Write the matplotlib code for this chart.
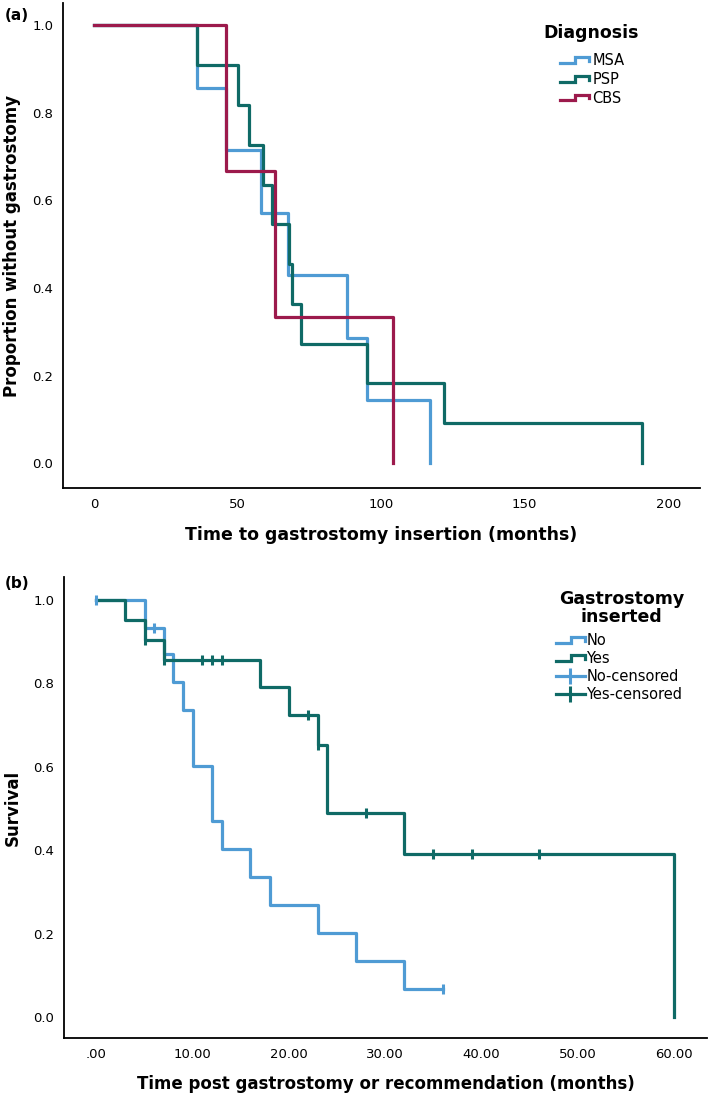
import matplotlib
matplotlib.use("Agg")
import matplotlib.pyplot as plt
from matplotlib.lines import Line2D
from matplotlib.legend_handler import HandlerBase

# panel (a): time to gastrostomy insertion, by diagnosis
msa_time = [0, 36, 46, 58, 67.4, 88, 95, 117]
msa_surv = [1.0, 0.857, 0.714, 0.571, 0.429, 0.286, 0.143, 0.0]
psp_time = [0, 36, 50, 54, 59, 62, 68, 69, 72, 95, 122, 191]
psp_surv = [1.0, 0.909, 0.818, 0.727, 0.636, 0.545, 0.455, 0.364, 0.273, 0.182, 0.091, 0.0]
cbs_time = [0, 46, 63, 104]
cbs_surv = [1.0, 0.667, 0.333, 0.0]

# panel (b): survival post gastrostomy or recommendation
no_time = [0, 5, 7, 8, 9, 10, 12, 13, 16, 18, 23, 27, 32, 36]
no_surv = [1.0, 0.933, 0.871, 0.804, 0.737, 0.603, 0.469, 0.402, 0.335, 0.268, 0.201, 0.134, 0.067, 0.067]
no_cens_time = [0, 6, 36]
no_cens_surv = [1.0, 0.933, 0.067]
yes_time = [0, 3, 5, 7, 17, 20, 23, 24, 32, 60]
yes_surv = [1.0, 0.952, 0.905, 0.857, 0.791, 0.725, 0.652, 0.489, 0.391, 0.0]
yes_cens_time = [5, 7, 11, 12, 13, 22, 23, 28, 35, 39, 46]
yes_cens_surv = [0.905, 0.857, 0.857, 0.857, 0.857, 0.725, 0.652, 0.489, 0.391, 0.391, 0.391]

yticks = [0.0, 0.2, 0.4, 0.6, 0.8, 1.0]
ytick_labels = ["0.0", "0.2", "0.4", "0.6", "0.8", "1.0"]
xticks_a = [0, 50, 100, 150, 200]
xticks_b = [0, 10, 20, 30, 40, 50, 60]
xtick_labels_b = [".00", "10.00", "20.00", "30.00", "40.00", "50.00", "60.00"]

BLUE = "#4f9bd4"
TEAL = "#0f6a66"
CRIMSON = "#9c1a4c"
LW = 2.3


class StepHandler(HandlerBase):
	# legend icon shaped like a little KM step
	def create_artists(self, legend, orig_handle, xdescent, ydescent, width, height, fontsize, trans):
		x0 = -xdescent
		x1 = x0 + width
		ym = -ydescent + height / 2
		h = 0.28 * height
		xs = [x0, x0 + 0.52 * width, x0 + 0.52 * width, x1, x1]
		ys = [ym - h, ym - h, ym + h, ym + h, ym - 0.1 * height]
		line = Line2D(xs, ys, color=orig_handle.get_color(), lw=orig_handle.get_linewidth(),
			solid_joinstyle="miter")
		line.set_transform(trans)
		return [line]


def style_axes(ax):
	for side in ["top", "right"]:
		ax.spines[side].set_visible(False)
	for side in ["left", "bottom"]:
		ax.spines[side].set_linewidth(1.3)
	ax.tick_params(length=0, labelsize=9.5, pad=7)
	ax.set_yticks(yticks)
	ax.set_yticklabels(ytick_labels)


fig = plt.figure(figsize=(7.09, 10.95), dpi=100)

# ---- panel (a)
ax1 = fig.add_axes([0.0889, 0.5543, 0.8981, 0.4427])
ax1.step(msa_time, msa_surv, where="post", color=BLUE, lw=LW)
ax1.step(psp_time, psp_surv, where="post", color=TEAL, lw=LW)
ax1.step(cbs_time, cbs_surv, where="post", color=CRIMSON, lw=LW)
ax1.set_xlim(-10.8, 211)
ax1.set_ylim(-0.057, 1.05)
style_axes(ax1)
ax1.set_xticks(xticks_a)
ax1.set_xlabel("Time to gastrostomy insertion (months)", fontsize=12.5, fontweight="bold", labelpad=11)
ax1.set_ylabel("Proportion without gastrostomy", fontsize=12, fontweight="bold", labelpad=8)

h_msa = Line2D([], [], color=BLUE, lw=LW)
h_psp = Line2D([], [], color=TEAL, lw=LW)
h_cbs = Line2D([], [], color=CRIMSON, lw=LW)
ax1.text(0.830, 0.938, "Diagnosis", transform=ax1.transAxes, ha="center", va="center",
	fontsize=12.5, fontweight="bold")
ax1.legend([h_msa, h_psp, h_cbs], ["MSA", "PSP", "CBS"],
	handler_map={Line2D: StepHandler()}, loc="upper left", bbox_to_anchor=(0.780, 0.897),
	frameon=False, fontsize=10.5, handlelength=2.0, handletextpad=0.25, labelspacing=0.25,
	borderpad=0, borderaxespad=0)

# ---- panel (b)
ax2 = fig.add_axes([0.0903, 0.0521, 0.9065, 0.4209])
ax2.step(no_time, no_surv, where="post", color=BLUE, lw=LW)
ax2.step(yes_time, yes_surv, where="post", color=TEAL, lw=LW)
ax2.plot(no_cens_time, no_cens_surv, ls="none", marker="|", ms=7, mew=2.2, color=BLUE)
ax2.plot(yes_cens_time, yes_cens_surv, ls="none", marker="|", ms=7, mew=2.2, color=TEAL)
ax2.set_xlim(-3.37, 63.4)
ax2.set_ylim(-0.050, 1.055)
style_axes(ax2)
ax2.set_xticks(xticks_b)
ax2.set_xticklabels(xtick_labels_b)
ax2.set_xlabel("Time post gastrostomy or recommendation (months)", fontsize=12, fontweight="bold", labelpad=10)
ax2.set_ylabel("Survival", fontsize=12, fontweight="bold", labelpad=8)

h_no = Line2D([], [], color=BLUE, lw=LW)
h_yes = Line2D([], [], color=TEAL, lw=LW)
h_no_c = Line2D([], [], color=BLUE, lw=LW, marker="|", ms=11, mew=2.2)
h_yes_c = Line2D([], [], color=TEAL, lw=LW, marker="|", ms=11, mew=2.2)
ax2.text(0.867, 0.933, "Gastrostomy\ninserted", transform=ax2.transAxes, ha="center", va="center",
	fontsize=12.5, fontweight="bold", linespacing=1.0, multialignment="center")
ax2.legend([h_no, h_yes, h_no_c, h_yes_c], ["No", "Yes", "No-censored", "Yes-censored"],
	handler_map={h_no: StepHandler(), h_yes: StepHandler()}, loc="upper left",
	bbox_to_anchor=(0.765, 0.879), frameon=False, fontsize=10.5, handlelength=2.0,
	handletextpad=0.1, labelspacing=0.22, borderpad=0, borderaxespad=0)

fig.text(0.006, 0.986, "(a)", fontsize=11, fontweight="bold", va="center")
fig.text(0.006, 0.4667, "(b)", fontsize=11, fontweight="bold", va="center")

fig.savefig("out.png", dpi=100)
